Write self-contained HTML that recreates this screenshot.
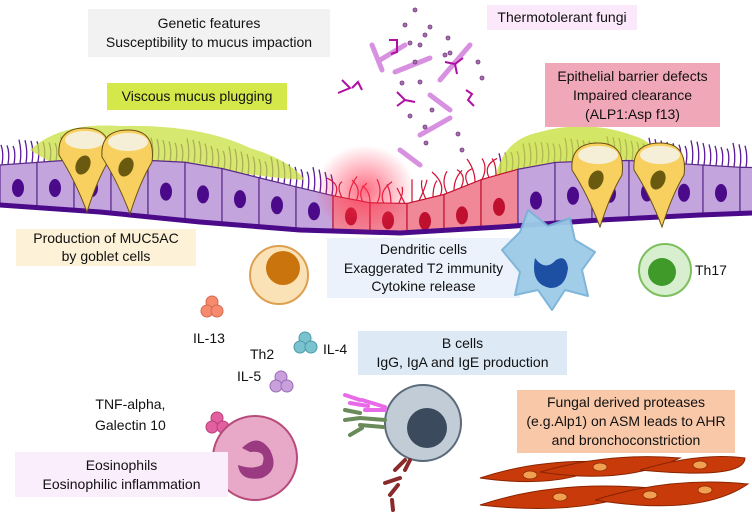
<!DOCTYPE html>
<html><head><meta charset="utf-8"><style>
body{margin:0;background:#fff;}
#w{position:relative;width:752px;height:517px;overflow:hidden;font-family:"Liberation Sans",sans-serif;}
.b{position:absolute;text-align:center;font-size:14px;line-height:19px;color:#111;}
.t{position:absolute;font-size:14px;color:#111;}
svg{position:absolute;left:0;top:0;}
</style></head><body><div id="w">
<svg id="s" width="752" height="517" viewBox="0 0 752 517">
<defs>
<radialGradient id="glow" cx="0.5" cy="0.5" r="0.5"><stop offset="0" stop-color="#ff3050" stop-opacity="0.7"/><stop offset="1" stop-color="#ff3050" stop-opacity="0"/></radialGradient>
</defs>
<g id="epi"></g>
<ellipse cx="365" cy="190" rx="50" ry="45" fill="url(#glow)"/>
<g id="fungi" stroke="#7a3a7a" stroke-width="0.8"></g>
<!-- Th17 -->
<circle cx="665" cy="270" r="26" fill="#d8efcf" stroke="#7cbf5c" stroke-width="2"/>
<circle cx="662" cy="272" r="14" fill="#3f9a2a"/>
<!-- Th2 -->
<circle cx="279" cy="275" r="29" fill="#fbe2b6" stroke="#dda050" stroke-width="2"/>
<circle cx="283" cy="268" r="17" fill="#c9740c"/>
<!-- clusters -->
<g fill="#f58a6e" stroke="#d56a4e"><circle cx="212" cy="302" r="6"/><circle cx="207" cy="311" r="6"/><circle cx="217" cy="311" r="6"/></g>
<g fill="#79c2ce" stroke="#4b9cab"><circle cx="305" cy="338" r="6"/><circle cx="300" cy="347" r="6"/><circle cx="311" cy="347" r="6"/></g>
<g fill="#c9a0dc" stroke="#9a6cb8"><circle cx="281" cy="377" r="6"/><circle cx="276" cy="386" r="6"/><circle cx="287" cy="386" r="6"/></g>
<g fill="#e260a0" stroke="#b8407a"><circle cx="217" cy="418" r="6"/><circle cx="212" cy="427" r="6"/><circle cx="223" cy="427" r="6"/></g>
<!-- eosinophil -->
<circle cx="255" cy="458" r="42" fill="#e8a8c8" stroke="#b84a7a" stroke-width="2"/>
<path d="M242,448 Q258,432 270,450 Q280,470 262,478 Q240,482 238,465 Q252,470 262,465 Q268,450 250,452Z" fill="#9a3a80"/>
<!-- B cell -->
<circle cx="423" cy="423" r="38" fill="#c2ccd6" stroke="#5a6a7a" stroke-width="2"/>
<circle cx="427" cy="428" r="20" fill="#3b4a5c"/>
<!-- antibodies -->
<g stroke-width="4" stroke-linecap="round">
<path d="M345,395 L360,400 M350,403 L368,406 M362,400 L385,407 M365,410 L385,410" stroke="#e86ae8"/>
<path d="M345,410 L360,413 M345,420 L360,418 M360,418 L385,420 M360,425 L383,427 M350,435 L362,428" stroke="#6a8a5a"/>
<path d="M395,470 L405,460 M405,470 L410,460 M385,483 L400,478 M398,485 L390,495 M392,500 L393,510" stroke="#8a2a2a"/>
</g>
<!-- smooth muscle -->
<g fill="#c83a0a" stroke="#8a2400">
<path d="M480,478 Q540,458 610,462 Q565,490 480,478Z"/>
<path d="M540,472 Q610,452 680,458 Q625,485 540,472Z"/>
<path d="M640,470 Q700,452 745,458 Q745,480 640,470Z"/>
<path d="M480,505 Q555,480 650,488 Q585,517 480,505Z"/>
<path d="M595,500 Q670,476 748,484 Q700,517 595,500Z"/>
</g>
<g fill="#f0a050" stroke="#8a2400" stroke-width="0.7"><ellipse cx="530" cy="475" rx="7" ry="4"/><ellipse cx="600" cy="467" rx="7" ry="4"/><ellipse cx="700" cy="465" rx="7" ry="4"/><ellipse cx="560" cy="497" rx="7" ry="4"/><ellipse cx="650" cy="495" rx="7" ry="4"/><ellipse cx="705" cy="490" rx="7" ry="4"/></g>
</svg>
<div class="b" style="left:88px;top:9px;width:242px;height:48px;background:#f2f2f2;padding-top:5px;box-sizing:border-box">Genetic features<br>Susceptibility to mucus impaction</div>
<div class="b" style="left:487px;top:5px;width:150px;height:25px;background:#fbe8fb;line-height:25px">Thermotolerant fungi</div>
<div class="b" style="left:107px;top:83px;width:180px;height:27px;background:#d4e84a;line-height:27px">Viscous mucus plugging</div>
<div class="b" style="left:545px;top:63px;width:175px;height:64px;background:#f0a8b8;padding-top:4px;box-sizing:border-box">Epithelial barrier defects<br>Impaired clearance<br>(ALP1:Asp f13)</div>
<div class="b" style="left:16px;top:229px;width:180px;height:37px;background:#fdf2d8;line-height:18px">Production of MUC5AC<br>by goblet cells</div>
<div class="b" style="left:327px;top:238px;width:193px;height:60px;background:rgba(232,240,250,0.85);padding-top:2px;box-sizing:border-box;line-height:18.5px">Dendritic cells<br>Exaggerated T2 immunity<br>Cytokine release</div>
<svg width="752" height="517" viewBox="0 0 752 517" style="pointer-events:none">
<path d="M502,250 L520,232 L528,210 L548,226 L570,218 L575,240 L595,252 L582,270 L588,296 L565,290 L552,310 L538,290 L515,295 L520,272 Z" fill="#9dcbe8" stroke="#7ab3d8" stroke-width="2" stroke-linejoin="round" opacity="0.95"/>
<path d="M535,258 Q545,272 556,260 Q566,254 568,268 Q566,288 550,288 Q530,284 535,258Z" fill="#1d4fa3"/>
</svg>
<div class="b" style="left:358px;top:331px;width:209px;height:44px;background:#dde9f5;line-height:19px;padding-top:3px;box-sizing:border-box">B cells<br>IgG, IgA and IgE production</div>
<div class="b" style="left:517px;top:390px;width:218px;height:63px;background:#f8c8a8;padding-top:3px;box-sizing:border-box">Fungal derived proteases<br>(e.g.Alp1) on ASM leads to AHR<br>and bronchoconstriction</div>
<div class="b" style="left:15px;top:452px;width:213px;height:45px;background:#fbeefc;padding-top:4px;box-sizing:border-box">Eosinophils<br>Eosinophilic inflammation</div>
<div class="t" style="left:95px;top:394px;line-height:21px;text-align:center">TNF-alpha,<br>Galectin 10</div>
<div class="t" style="left:193px;top:330px">IL-13</div>
<div class="t" style="left:250px;top:346px">Th2</div>
<div class="t" style="left:323px;top:341px">IL-4</div>
<div class="t" style="left:237px;top:368px">IL-5</div>
<div class="t" style="left:695px;top:262px">Th17</div>
</div>
<script>
function interp(p,x){for(var i=0;i<p.length-1;i++){if(x<=p[i+1][0]){var t=(x-p[i][0])/(p[i+1][0]-p[i][0]);return p[i][1]+t*(p[i+1][1]-p[i][1]);}}return p[p.length-1][1];}
var T=[[0,165],[100,158],[200,163],[280,183],[330,195],[360,202],[400,205],[440,196],[480,180],[540,163],[620,160],[752,168]];
var B=[[0,205],[100,212],[200,222],[300,230],[400,233],[500,227],[600,220],[700,215],[752,213]];
var g=document.getElementById('epi'),h='';
for(var x=2;x<752;x+=6){if(x>335&&x<500)continue;var y=interp(T,x);h+='<path d="M'+x+','+y+' q2,-12 -1,-'+(18+(x%7))+'" stroke="#5a1a9a" stroke-width="1.3" fill="none"/>';}
for(var x=335;x<500;x+=7){var y=interp(T,x);h+='<path d="M'+x+','+y+' q'+((x%3)-1)*6+',-12 '+((x%5)-2)*4+',-'+(16+(x%9))+'" stroke="#d01030" stroke-width="1.2" fill="none"/>';}
h+='<path d="M30,150 Q60,122 120,126 Q200,124 250,148 Q290,160 305,180 Q260,178 200,165 Q120,162 60,168 Z" fill="#c8e040" opacity="0.75"/>';
h+='<path d="M495,182 Q500,140 540,132 Q590,118 640,138 Q665,150 640,160 Q580,158 540,170 Q515,178 495,188 Z" fill="#c8e040" opacity="0.8"/>';
for(var x=0;x<752;x+=37){var x2=x+37,t1=interp(T,x),t2=interp(T,x2),b1=interp(B,x),b2=interp(B,x2);var red=(x>=330&&x<500);
h+='<path d="M'+x+','+t1+' L'+x2+','+t2+' L'+x2+','+b2+' L'+x+','+b1+'Z" fill="'+(red?'#f08898':'#c4a4dc')+'" stroke="'+(red?'#c01030':'#5a2a8a')+'" stroke-width="1.2"/>';
var cx=x+18,cy=(t1+b1)/2+3;h+='<ellipse cx="'+cx+'" cy="'+cy+'" rx="6" ry="9" fill="'+(red?'#c01030':'#4a0a8a')+'"/>';}
h+='<path d="M0,205 L100,212 L200,222 L300,230 L400,233 L500,227 L600,220 L700,215 L752,213" stroke="#4a0a8a" stroke-width="5" fill="none"/>';
[[85,150],[128,152],[598,165],[660,165]].forEach(function(c){var x=c[0],y=c[1];h+='<path d="M'+(x-26)+','+(y+5)+' Q'+(x-28)+','+(y-22)+' '+x+','+(y-22)+' Q'+(x+28)+','+(y-22)+' '+(x+24)+','+(y+10)+' Q'+(x+12)+','+(y+30)+' '+(x+2)+','+(y+62)+' Q'+(x-10)+','+(y+30)+' '+(x-26)+','+(y+5)+'Z" fill="#f8d060" stroke="#6a5010"/>';
h+='<ellipse cx="'+x+'" cy="'+(y-10)+'" rx="20" ry="9" fill="#f6efd8"/><ellipse cx="'+(x-2)+'" cy="'+(y+15)+'" rx="7" ry="10" fill="#6a5a10" transform="rotate(25 '+(x-2)+' '+(y+15)+')"/>';});
g.innerHTML=h;
var f='',F=document.getElementById('fungi');
[[380,60,405,45],[395,72,430,58],[440,80,470,45],[430,95,450,110],[420,135,450,118],[400,150,420,165],[372,45,382,70]].forEach(function(r){f+='<line x1="'+r[0]+'" y1="'+r[1]+'" x2="'+r[2]+'" y2="'+r[3]+'" stroke="#d890e0" stroke-width="5" stroke-linecap="round"/>';});
[[415,10],[405,25],[430,27],[425,35],[410,43],[420,45],[448,38],[450,53],[445,55],[415,62],[478,62],[482,78],[420,82],[402,83],[432,110],[425,127],[458,134],[462,150],[426,143],[410,116]].forEach(function(d){f+='<circle cx="'+d[0]+'" cy="'+d[1]+'" r="2" fill="#a070b0"/>';});
[[352,88,"M-10,-8 l8,8 l-12,5 M0,0 l6,-6 l4,8"],[405,100,"M-8,-8 l8,8 l-8,6 M0,0 l10,2"],[455,62,"M-10,0 l10,2 l8,-6 M0,2 l2,10"],[393,48,"M-4,-8 l8,0 l0,12 l-6,2"],[470,98,"M-4,-8 l6,4 l-4,6 l6,6"]].forEach(function(s){f+='<path transform="translate('+s[0]+','+s[1]+')" d="'+s[2]+'" stroke="#b010a0" stroke-width="2" fill="none"/>';});
F.innerHTML=f;
</script>
</body></html>
